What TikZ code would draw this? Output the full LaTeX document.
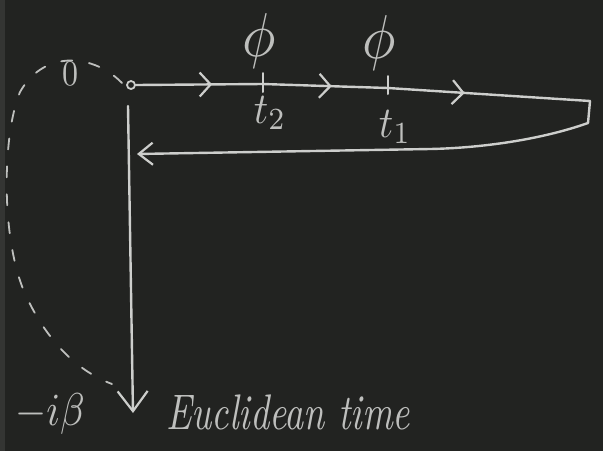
\documentclass[tikz,border=0pt]{standalone}
\usetikzlibrary{arrows.meta,decorations.markings,calc}
\definecolor{board}{RGB}{34,35,33}
\definecolor{chalk}{RGB}{205,206,204}
\definecolor{chalkdim}{RGB}{190,191,189}
\definecolor{edgestrip}{RGB}{52,53,51}
\tikzset{
  chalkline/.style={draw=chalk,line width=2.4pt,line cap=round,line join=round},
  fwdmarks/.style={postaction={decorate},decoration={markings,
    mark=at position #1 with {\arrow[chalk]{Straight Barb[length=11pt,width=24pt,line width=2.2pt]}}}},
  chalktext/.style={text=chalkdim,inner sep=0pt},
  tickmark/.style={draw=chalk,line width=2pt,line cap=round}
}
\begin{document}
\begin{tikzpicture}[x=1pt,y=-1pt]
\fill[board] (0,0) rectangle (603,451);
\fill[edgestrip] (0,0) rectangle (5,451);
\useasboundingbox (0,0) rectangle (603,451);

% points of the contour
\node[draw=chalk,line width=1.8pt,circle,minimum size=8pt,inner sep=0pt] (s) at (131,85) {};
\coordinate (t2) at (263,84);
\coordinate (t1) at (388,88);
\coordinate (R1) at (590,101);
\coordinate (R2) at (588,123);
\coordinate (B) at (430,149);
\coordinate (L) at (137,154);
\coordinate (v0) at (128,106);
\coordinate (v1) at (133,413);

% forward branch
\path[chalkline,fwdmarks=0.6] (s.east) -- (t2);
\path[chalkline,fwdmarks=0.55] (t2) -- (t1);
\path[chalkline,fwdmarks=0.38] (t1) -- (R1);
% return branch
\draw[chalkline,-{Straight Barb[length=14pt,width=22pt,line width=2.2pt]}] (R1) -- (R2) .. controls (540,140) and (480,148) .. (B) -- (L);
% Euclidean branch
\draw[chalkline,-{Straight Barb[length=20pt,width=30pt,line width=2.2pt]}] (v0) -- (v1);

% ticks
\draw[tickmark] ($(t2)+(0,-11)$) -- ($(t2)+(0,8)$);
\draw[tickmark] ($(t1)+(0,-12)$) -- ($(t1)+(0,6)$);

% dashed arc from 0 to -i beta
\draw[draw=chalkdim,line width=1.8pt,line cap=round,dash pattern=on 11pt off 17pt]
  (122,83) .. controls (95,55) and (45,48) .. (20,92)
  .. controls (2,135) and (0,245) .. (28,300)
  .. controls (50,345) and (80,372) .. (112,384);

% labels
\node[chalktext] (phi2) at (259,41) {\scalebox{5.6}[6.2]{$\phi$}};
\node[chalktext] (phi1) at (379,43) {\scalebox{5.6}[6.2]{$\phi$}};
\node[chalktext] (lt2) at (270,113) {\scalebox{4}[4.4]{$t_2$}};
\node[chalktext] (lt1) at (395,127) {\scalebox{4}[4.4]{$t_1$}};
\node[chalktext] (zero) at (70,74) {\scalebox{3.2}[3.6]{$0$}};
\node[chalktext] (beta) at (50,414) {\scalebox{4}[4.6]{$-i\beta$}};
\node[chalktext,anchor=west] (eu) at (166,412) {\scalebox{3.75}[5]{\itshape Euclidean time}};
\end{tikzpicture}
\end{document}
